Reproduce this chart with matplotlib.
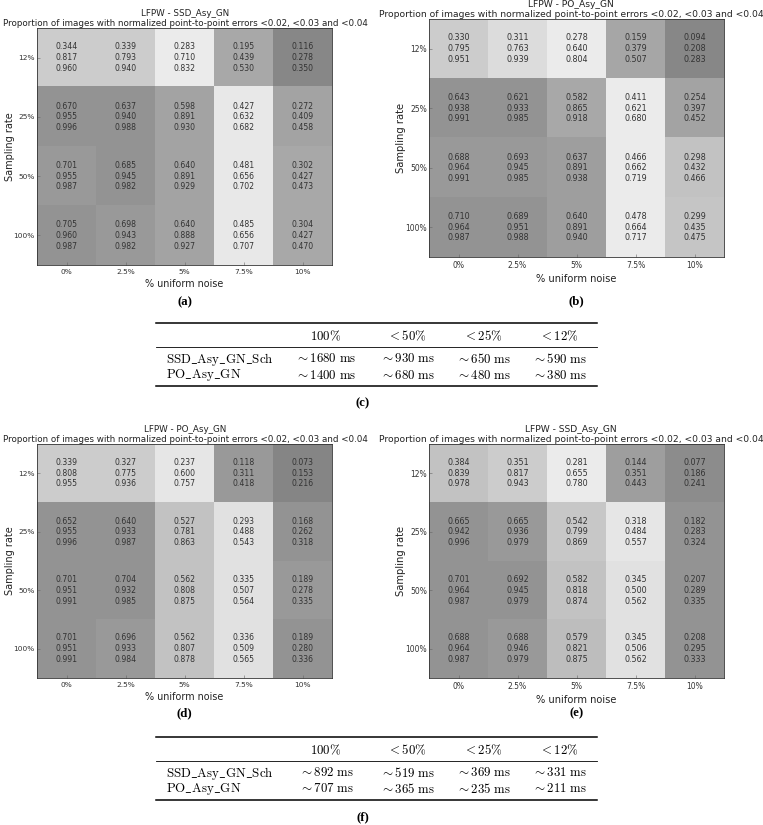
import numpy as np
import matplotlib
matplotlib.use("Agg")
import matplotlib.pyplot as plt

plt.rcParams['mathtext.fontset'] = 'cm'

W, H = 763, 825

noise_labels = ['0%', '2.5%', '5%', '7.5%', '10%']
rate_labels = ['12%', '25%', '50%', '100%']

# (a) LFPW - SSD_Asy_GN
a_lt02 = [[0.344, 0.339, 0.283, 0.195, 0.116], [0.670, 0.637, 0.598, 0.427, 0.272],
          [0.701, 0.685, 0.640, 0.481, 0.302], [0.705, 0.698, 0.640, 0.485, 0.304]]
a_lt03 = [[0.817, 0.793, 0.710, 0.439, 0.278], [0.955, 0.940, 0.891, 0.632, 0.409],
          [0.955, 0.945, 0.891, 0.656, 0.427], [0.960, 0.943, 0.888, 0.656, 0.427]]
a_lt04 = [[0.960, 0.940, 0.832, 0.530, 0.350], [0.996, 0.988, 0.930, 0.682, 0.458],
          [0.987, 0.982, 0.929, 0.702, 0.473], [0.987, 0.982, 0.927, 0.707, 0.470]]

# (b) LFPW - PO_Asy_GN
b_lt02 = [[0.330, 0.311, 0.278, 0.159, 0.094], [0.643, 0.621, 0.582, 0.411, 0.254],
          [0.688, 0.693, 0.637, 0.466, 0.298], [0.710, 0.689, 0.640, 0.478, 0.299]]
b_lt03 = [[0.795, 0.763, 0.640, 0.379, 0.208], [0.938, 0.933, 0.865, 0.621, 0.397],
          [0.964, 0.945, 0.891, 0.662, 0.432], [0.964, 0.951, 0.891, 0.664, 0.435]]
b_lt04 = [[0.951, 0.939, 0.804, 0.507, 0.283], [0.991, 0.985, 0.918, 0.680, 0.452],
          [0.991, 0.985, 0.938, 0.719, 0.466], [0.987, 0.988, 0.940, 0.717, 0.475]]

# (d) LFPW - PO_Asy_GN
d_lt02 = [[0.339, 0.327, 0.237, 0.118, 0.073], [0.652, 0.640, 0.527, 0.293, 0.168],
          [0.701, 0.704, 0.562, 0.335, 0.189], [0.701, 0.696, 0.562, 0.336, 0.189]]
d_lt03 = [[0.808, 0.775, 0.600, 0.311, 0.153], [0.955, 0.933, 0.781, 0.488, 0.262],
          [0.951, 0.932, 0.808, 0.507, 0.278], [0.951, 0.933, 0.807, 0.509, 0.280]]
d_lt04 = [[0.955, 0.936, 0.757, 0.418, 0.216], [0.996, 0.987, 0.863, 0.543, 0.318],
          [0.991, 0.985, 0.875, 0.564, 0.335], [0.991, 0.984, 0.878, 0.565, 0.336]]

# (e) LFPW - SSD_Asy_GN
e_lt02 = [[0.384, 0.351, 0.281, 0.144, 0.077], [0.665, 0.665, 0.542, 0.318, 0.182],
          [0.701, 0.692, 0.582, 0.345, 0.207], [0.688, 0.688, 0.579, 0.345, 0.208]]
e_lt03 = [[0.839, 0.817, 0.655, 0.351, 0.186], [0.942, 0.936, 0.799, 0.484, 0.283],
          [0.964, 0.945, 0.818, 0.500, 0.289], [0.964, 0.946, 0.821, 0.506, 0.295]]
e_lt04 = [[0.978, 0.943, 0.780, 0.443, 0.241], [0.996, 0.979, 0.869, 0.557, 0.324],
          [0.987, 0.979, 0.874, 0.562, 0.335], [0.987, 0.979, 0.875, 0.562, 0.333]]

# grey level of each cell as seen in the picture
a_shade = [[0.80, 0.80, 0.92, 0.66, 0.53], [0.58, 0.58, 0.64, 0.91, 0.64],
           [0.60, 0.58, 0.64, 0.91, 0.66], [0.58, 0.60, 0.64, 0.91, 0.66]]
b_shade = [[0.80, 0.86, 0.92, 0.65, 0.53], [0.58, 0.58, 0.66, 0.92, 0.64],
           [0.60, 0.60, 0.62, 0.92, 0.76], [0.58, 0.58, 0.62, 0.92, 0.77]]
d_shade = [[0.80, 0.80, 0.90, 0.60, 0.52], [0.58, 0.58, 0.76, 0.88, 0.58],
           [0.58, 0.58, 0.76, 0.88, 0.60], [0.58, 0.60, 0.76, 0.88, 0.58]]
e_shade = [[0.76, 0.80, 0.92, 0.62, 0.55], [0.58, 0.60, 0.78, 0.90, 0.58],
           [0.58, 0.58, 0.76, 0.88, 0.58], [0.58, 0.60, 0.74, 0.88, 0.58]]

# timing tables
tab_cols = ['100%', '< 50%', '< 25%', '< 12%']
tab_rows = ['SSD_Asy_GN_Sch', 'PO_Asy_GN']
c_ssd_ms = [1680, 930, 650, 590]
c_po_ms = [1400, 680, 480, 380]
f_ssd_ms = [892, 519, 369, 331]
f_po_ms = [707, 365, 235, 211]

fig = plt.figure(figsize=(W / 100, H / 100), dpi=100)


def px_axes(x0, y0, x1, y1):
    return fig.add_axes([x0 / W, 1 - y1 / H, (x1 - x0) / W, (y1 - y0) / H])


def panel_letter(x, y, letter):
    fig.text(x / W, 1 - y / H, '(' + letter + ')', ha='center', va='center',
             fontsize=9.2, fontweight='bold', family='Liberation Serif')


def heatmap(box, name, lt02, lt03, lt04, shade, letter, letter_y,
            title_cx, ylab_x, k=1.0):
    ax = px_axes(*box)
    ax.imshow(np.array(shade), cmap='gray', vmin=0, vmax=1, aspect='auto',
              interpolation='nearest')
    for i in range(len(rate_labels)):
        for j in range(len(noise_labels)):
            s = '%.3f\n%.3f\n%.3f' % (lt02[i][j], lt03[i][j], lt04[i][j])
            ax.text(j, i, s, ha='center', va='center', fontsize=5.6 * k,
                    color='#333333', linespacing=1.25)
    ax.set_xticks(range(len(noise_labels)))
    ax.set_xticklabels(noise_labels, fontsize=5.3 * k, color='#333333')
    ax.set_yticks(range(len(rate_labels)))
    ax.set_yticklabels(rate_labels, fontsize=5.3 * k, color='#333333')
    ax.tick_params(direction='in', length=2, width=0.4, color='#666666', pad=1.5)
    ax.tick_params(axis='x', pad=3)
    for sp in ax.spines.values():
        sp.set_linewidth(0.6)
        sp.set_color('#333333')
    ax.set_xlabel('% uniform noise', fontsize=6.9 * k, color='#222222', labelpad=3)
    cy = (box[1] + box[3]) / 2
    fig.text(ylab_x / W, 1 - cy / H, 'Sampling rate', rotation=90, ha='center',
             va='center', fontsize=7.0 * k, color='#222222')
    ax.set_title('LFPW - ' + name + '\nProportion of images with normalized '
                 'point-to-point errors <0.02, <0.03 and <0.04',
                 fontsize=6.35 * k, color='#222222', linespacing=1.1, pad=0.8,
                 x=(title_cx - box[0]) / (box[2] - box[0]))
    panel_letter((box[0] + box[2]) / 2, letter_y, letter)


def table(top, ssd, po, letter):
    x0, x1 = 156, 597
    col_x = [326, 407, 483, 559]
    rule_y = [top, top + 24, top + 63]
    row_y = [top + 36, top + 52]
    fig.add_artist(plt.Line2D([x0 / W, x1 / W], [1 - rule_y[0] / H] * 2,
                              color='black', lw=1.1))
    fig.add_artist(plt.Line2D([x0 / W, x1 / W], [1 - rule_y[1] / H] * 2,
                              color='black', lw=0.6))
    fig.add_artist(plt.Line2D([x0 / W, x1 / W], [1 - rule_y[2] / H] * 2,
                              color='black', lw=1.1))
    for cx, lab in zip(col_x, tab_cols):
        lab = lab.replace('%', r'\%')
        fig.text(cx / W, 1 - (top + 13) / H, '$' + lab + '$', ha='center',
                 va='center', fontsize=9.3)
    for ry, name, vals in zip(row_y, tab_rows, [ssd, po]):
        fig.text(166 / W, 1 - ry / H,
                 r'$\mathrm{' + name.replace('_', r'\_') + '}$',
                 ha='left', va='center', fontsize=9.3)
        for cx, v in zip(col_x, vals):
            fig.text(cx / W, 1 - ry / H, r'$\sim %d\ \mathrm{ms}$' % v,
                     ha='center', va='center', fontsize=9.3)
    panel_letter(363, top + 80, letter)


heatmap((37, 28, 332, 265), 'SSD_Asy_GN', a_lt02, a_lt03, a_lt04, a_shade,
        'a', 302, 185, 10)
heatmap((429, 19, 724, 257), 'PO_Asy_GN', b_lt02, b_lt03, b_lt04, b_shade,
        'b', 301, 571, 401, 1.03)
table(323, c_ssd_ms, c_po_ms, 'c')
heatmap((37, 444, 332, 678), 'PO_Asy_GN', d_lt02, d_lt03, d_lt04, d_shade,
        'd', 713, 185, 10)
heatmap((429, 444, 724, 678), 'SSD_Asy_GN', e_lt02, e_lt03, e_lt04, e_shade,
        'e', 713, 571, 401, 1.03)
table(737, f_ssd_ms, f_po_ms, 'f')

fig.savefig('out.png', dpi=100)
